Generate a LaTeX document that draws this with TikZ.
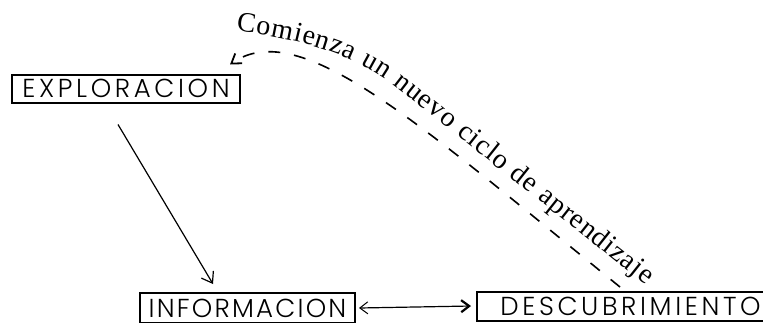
\documentclass[tikz,border=0pt]{standalone}
\usepackage{fontspec}
\newfontfamily\boxfont{Poppins Light}[LetterSpace=14]
\newfontfamily\boxfontnarrow{Poppins Light}[LetterSpace=8.5]
\newfontfamily\curvefont{Liberation Serif}
\usetikzlibrary{arrows.meta,decorations.text}
\tikzset{
  labelbox/.style={draw, line width=1pt, inner sep=0pt, minimum height=14pt,
    text height=9pt, text depth=0pt,
    font=\boxfont\fontsize{13pt}{15pt}\selectfont},
  narrowlabel/.style={font=\boxfontnarrow\fontsize{13pt}{15pt}\selectfont},
  conn/.style={line width=0.6pt},
  cycle arrow/.style={line width=0.8pt, dash pattern=on 6pt off 7pt}
}
\begin{document}
\begin{tikzpicture}[x=0.5pt,y=-0.5pt]
\useasboundingbox (0,0) rectangle (763,322);
\node[labelbox, minimum width=114pt] (exp) at (126,88.5) {EXPLORACION};
\node[labelbox, narrowlabel, minimum width=107.5pt, minimum height=15pt] (inf) at (247.5,308) {INFORMACION};
\node[labelbox, minimum width=153.5pt, minimum height=14.5pt] (desc) at (630.5,306) {DESCUBRIMIENTO};
% exploration -> informacion
\draw[conn, -{Straight Barb[length=5pt,width=7pt,line width=0.6pt]}]
  ([xshift=-4pt,yshift=-10.5pt]exp.south) -- ([xshift=-17.25pt,yshift=4pt]inf.north);
% double arrow
\draw[conn, {Straight Barb[length=4pt,width=6pt,line width=0.5pt]}-{Straight Barb[length=4pt,width=6pt,line width=1.1pt]}]
  ([xshift=1.5pt]inf.east) -- ([xshift=-2.5pt]desc.west);
% dashed cycle arrow
\draw[cycle arrow, -{Straight Barb[length=4.5pt,width=6pt,line width=0.9pt]}]
  ([xshift=-5.25pt,yshift=1.75pt]desc.north) .. controls (420,125) and (300,15) .. ([xshift=-5.5pt,yshift=4.5pt]exp.north east);
% curved label
\path[decorate, decoration={text along path, text align={fit to path},
  text={|\curvefont\fontsize{14pt}{16pt}\selectfont|Comienza un nuevo ciclo de aprendizaje}}]
  (236,31) .. controls (320,42) and (362,60) .. (400,90) -- (646,285);
\end{tikzpicture}
\end{document}
